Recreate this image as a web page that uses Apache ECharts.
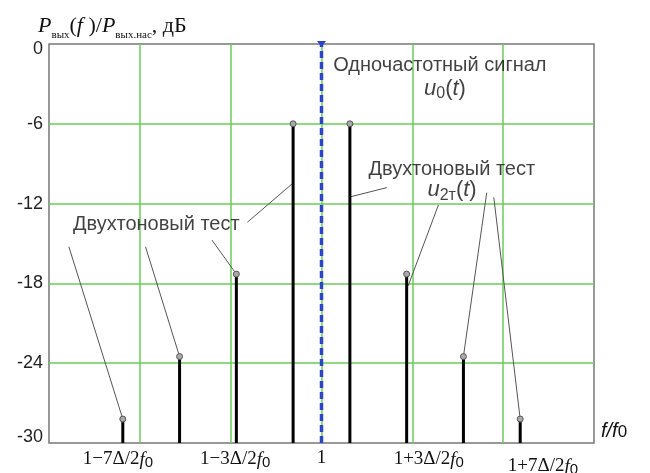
<!DOCTYPE html>
<html>
<head>
<meta charset="utf-8">
<script src="https://cdn.jsdelivr.net/npm/echarts@6/dist/echarts.min.js"></script>
<style>
html, body { margin: 0; background: #fff; }
#chart { width: 650px; height: 473px; }
</style>
</head>
<body>
<div id="chart"></div>
<script>
// spectral lines: offset from f0 in units of Δ/2f0, level in dB
const lineOffsets = [-7, -5, -3, -1, 1, 3, 5, 7];
const lineLevels = [-28.2, -23.5, -17.3, -6, -6, -17.3, -23.5, -28.2];
const carrierLine = [[0, -30], [0, 0]];

// x tick labels (where they sit along the axis)
const tickLabels = ['1−7Δ/2', '1−3Δ/2', '1', '1+3Δ/2', '1+7Δ/2'];
const tickAt = [-7.17, -3.04, 0, 3.78, 7.8];

// leader lines from the annotations to the lines [x1, y1, x2, y2]
const leaders = [
    [-2.61, -13.4, -1, -10.45],
    [-3.86, -14.74, -3, -17.3],
    [-6.2, -15.24, -5, -23.5],
    [-8.9, -15.24, -7, -28.2],
    [2.3, -10.8, 1, -11.5],
    [4.12, -12.1, 3.05, -18.2],
    [5.82, -11.18, 5, -23.5],
    [6.07, -11.53, 7, -28.2]
];

// annotation texts [x, y, text]
const notes = [
    [4.17, -1.65, '{s|Одночастотный сигнал}'],
    [4.35, -3.35, '{u|u}{d|0}{p|(}{u|t}{p|)}'],
    [4.59, -9.45, '{s|Двухтоновый тест}'],
    [4.6, -11.0, '{u|u}{d|2т}{p|(}{u|t}{p|)}'],
    [-5.82, -13.6, '{s|Двухтоновый тест}']
];

const SANS = 'Liberation Sans, Arial, sans-serif';
const SERIF = 'Liberation Serif, Times New Roman, serif';
const GREEN = '#6acd5a';

const chart = echarts.init(document.getElementById('chart'), null, {renderer: 'canvas'});

const noteRich = {
    s: {fontFamily: SANS, fontSize: 20, color: '#111'},
    u: {fontFamily: SANS, fontSize: 22, fontStyle: 'italic', color: '#111', lineHeight: 26},
    p: {fontFamily: SANS, fontSize: 22, color: '#111', lineHeight: 26},
    d: {fontFamily: SANS, fontSize: 16, color: '#111', verticalAlign: 'bottom', lineHeight: 26, padding: [4, 0, 0, 0]}
};

chart.setOption({
    animation: false,
    title: {
        left: 33,
        top: 6,
        text: '{P|P}{sub|вых}{n|(}{f|f}{n| )/}{P|P}{sub|вых.нас}{n|, дБ}',
        textStyle: {
            fontWeight: 'normal',
            rich: {
                P: {fontFamily: SERIF, fontStyle: 'italic', fontWeight: 'normal', fontSize: 22, color: '#111', lineHeight: 30},
                f: {fontFamily: SERIF, fontStyle: 'italic', fontWeight: 'normal', fontSize: 22, color: '#111', lineHeight: 30},
                n: {fontFamily: SERIF, fontWeight: 'normal', fontSize: 22, color: '#111', lineHeight: 30},
                sub: {fontFamily: SERIF, fontWeight: 'normal', fontSize: 11, color: '#111', verticalAlign: 'bottom', lineHeight: 30, padding: [6, 0, 0, 0]}
            }
        }
    },
    graphic: [{
        type: 'text',
        left: 601,
        top: 421,
        style: {
            text: '{i|f/f}{d|0}',
            rich: {
                i: {fontFamily: SANS, fontStyle: 'italic', fontSize: 20, fill: '#111'},
                d: {fontFamily: SANS, fontSize: 17, fill: '#111', padding: [3, 0, 0, 0]}
            }
        }
    }],
    grid: {
        left: 49, right: 56, top: 44, bottom: 30,
        outerBoundsMode: 'none',
        containLabel: false,
        show: true, borderColor: '#777', borderWidth: 1.5
    },
    xAxis: {
        type: 'value',
        min: -9.6, max: 9.6, interval: 3.2,
        axisLine: {show: false},
        axisTick: {show: false},
        splitLine: {show: true, showMinLine: false, showMaxLine: false, lineStyle: {color: GREEN, width: 1.5}},
        axisLabel: {
            customValues: tickAt,
            margin: 6,
            formatter: v => {
                const i = tickAt.indexOf(v);
                if (i < 0) return '';
                const t = tickLabels[i];
                if (t === '1') return '{n|1}';
                const k = i === tickLabels.length - 1 ? 'L' : '';
                return `{n${k}|${t}}{f${k}|f}{d${k}|0}`;
            },
            rich: {
                n: {fontFamily: SERIF, fontSize: 19, color: '#111'},
                f: {fontFamily: SERIF, fontStyle: 'italic', fontSize: 19, color: '#111'},
                d: {fontFamily: SANS, fontSize: 15, color: '#111', padding: [6, 0, 0, 0]},
                nL: {fontFamily: SERIF, fontSize: 19, color: '#111', padding: [7, 0, 0, 0]},
                fL: {fontFamily: SERIF, fontStyle: 'italic', fontSize: 19, color: '#111', padding: [7, 0, 0, 0]},
                dL: {fontFamily: SANS, fontSize: 15, color: '#111', padding: [13, 0, 0, 0]}
            }
        }
    },
    yAxis: {
        type: 'value',
        min: -30, max: 0, interval: 6,
        axisLine: {show: false},
        axisTick: {show: false},
        splitLine: {show: true, showMinLine: false, showMaxLine: false, lineStyle: {color: GREEN, width: 1.5}},
        axisLabel: {
            margin: 6,
            formatter: v => v === 0 ? '{t|0}' : v === -30 ? '{b|-30}' : '{m|' + v + '}',
            rich: {
                m: {fontFamily: SANS, fontSize: 18, color: '#222'},
                t: {fontFamily: SANS, fontSize: 18, color: '#222', padding: [10, 0, 0, 0]},
                b: {fontFamily: SANS, fontSize: 18, color: '#222', padding: [0, 0, 12, 0]}
            }
        }
    },
    series: [
        {
            type: 'line',
            data: [
                {value: carrierLine[0], symbol: 'none'},
                {value: carrierLine[1], symbol: 'triangle', symbolRotate: 180, symbolSize: [9, 6]}
            ],
            showSymbol: true,
            itemStyle: {color: '#2a45c8'},
            lineStyle: {color: '#2a45c8', width: 3.5, type: [7, 4]},
            silent: true,
            z: 3
        },
        {
            type: 'line',
            data: [],
            silent: true,
            markLine: {
                silent: true,
                symbol: 'none',
                label: {show: false},
                lineStyle: {color: '#555', width: 1, type: 'solid'},
                data: leaders.map(([x1, y1, x2, y2]) => [{coord: [x1, y1]}, {coord: [x2, y2]}])
            },
            z: 4
        },
        {
            type: 'custom',
            data: lineOffsets.map((x, i) => [x, lineLevels[i]]),
            renderItem: (params, api) => {
                const top = api.coord([api.value(0), api.value(1)]);
                const base = api.coord([api.value(0), -30]);
                return {
                    type: 'group',
                    children: [
                        {type: 'line', shape: {x1: top[0], y1: top[1], x2: base[0], y2: base[1]},
                            style: {stroke: '#000', lineWidth: 3}},
                        {type: 'circle', shape: {cx: top[0], cy: top[1], r: 3},
                            style: {fill: '#aaa', stroke: '#555', lineWidth: 1}}
                    ]
                };
            },
            silent: true,
            z: 5
        },
        {
            type: 'scatter',
            data: notes.map(n => [n[0], n[1], n[2]]),
            symbolSize: 0,
            silent: true,
            label: {
                show: true,
                position: 'inside',
                formatter: p => p.value[2],
                rich: noteRich
            },
            z: 6
        }
    ]
});
</script>
</body>
</html>
